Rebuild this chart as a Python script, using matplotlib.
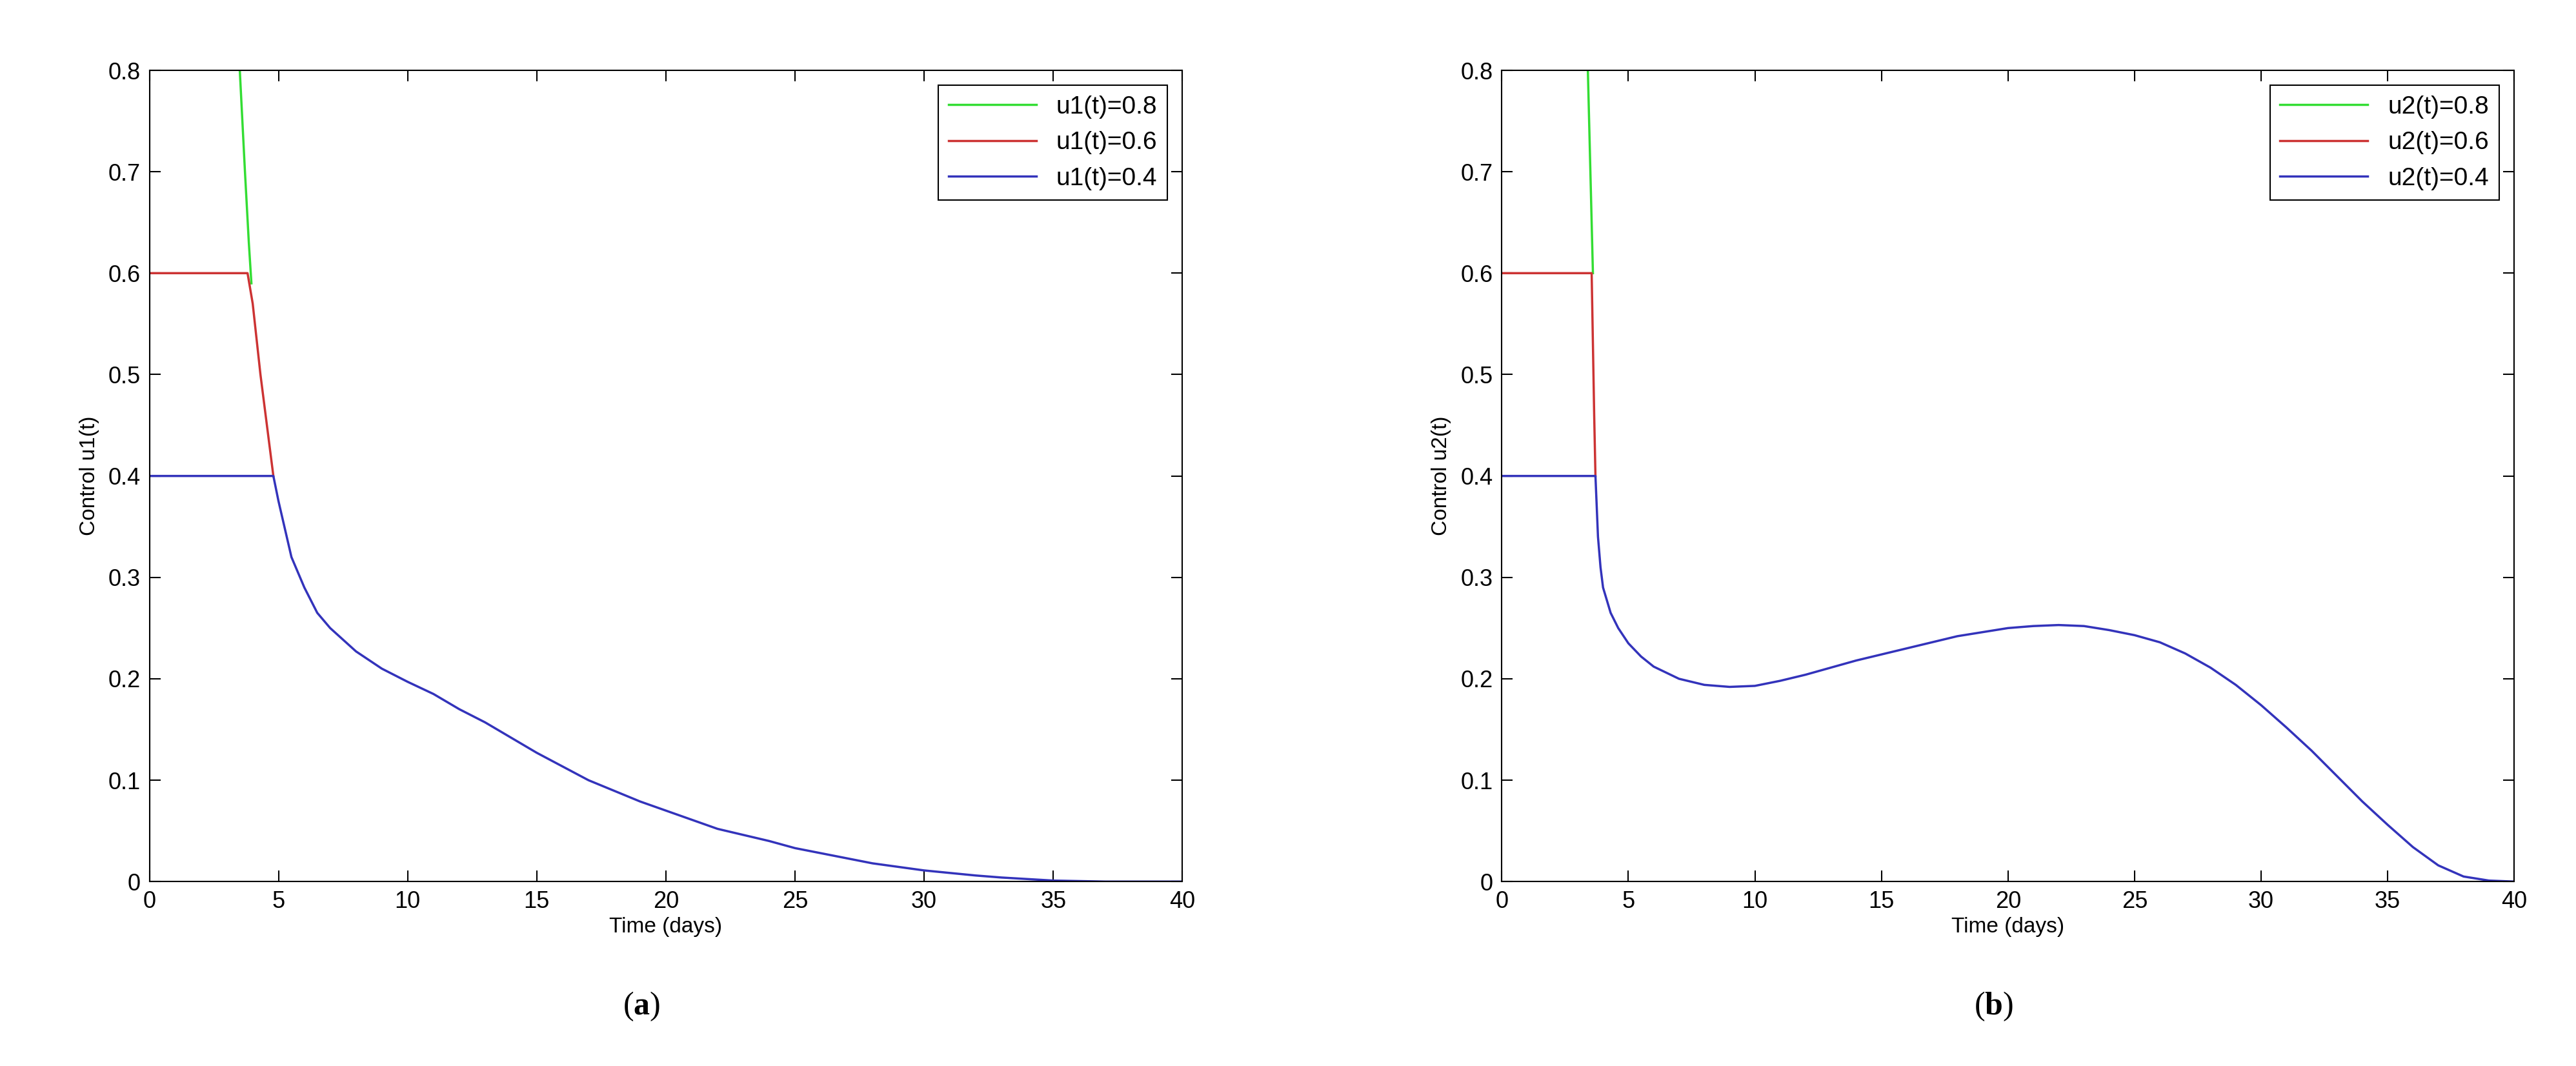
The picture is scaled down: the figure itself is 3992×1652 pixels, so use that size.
import matplotlib
matplotlib.use('Agg')
import matplotlib.pyplot as plt

plt.rcParams['font.family'] = ['Liberation Sans', 'DejaVu Sans']
plt.rcParams['mathtext.fontset'] = 'custom'
plt.rcParams['mathtext.bf'] = 'Liberation Serif:bold'

# panel (a): u1
a_g_t = [3.5, 3.7, 3.85, 3.95]
a_g_u = [0.80, 0.70, 0.63, 0.59]
a_r_t = [0, 3.8, 4.0, 4.3, 4.6, 4.8]
a_r_u = [0.6, 0.6, 0.57, 0.50, 0.44, 0.40]
a_b_t = [0, 4.8, 5.0, 5.5, 6.0, 6.5, 7.0, 8.0, 9.0, 10, 11, 12, 13, 15, 17, 19, 20,
         22, 24, 25, 27, 28, 30, 32, 33, 35, 37, 40]
a_b_u = [0.4, 0.4, 0.375, 0.32, 0.29, 0.265, 0.25, 0.227, 0.21, 0.197, 0.185, 0.17,
         0.157, 0.127, 0.1, 0.079, 0.07, 0.052, 0.04, 0.033, 0.023, 0.018, 0.011,
         0.006, 0.004, 0.001, 0.0, 0.0]

# panel (b): u2
b_g_t = [3.4, 3.5, 3.6]
b_g_u = [0.80, 0.70, 0.60]
b_r_t = [0, 3.55, 3.6, 3.65, 3.7]
b_r_u = [0.6, 0.6, 0.53, 0.46, 0.40]
b_b_t = [0, 3.7, 3.8, 3.9, 4.0, 4.3, 4.6, 5, 5.5, 6, 7, 8, 9, 10, 11, 12, 14, 16, 18,
         20, 21, 22, 23, 24, 25, 26, 27, 28, 29, 30, 31, 32, 33, 34, 35, 36, 37, 38,
         39, 40]
b_b_u = [0.4, 0.4, 0.34, 0.31, 0.29, 0.265, 0.25, 0.235, 0.222, 0.212, 0.2, 0.194,
         0.192, 0.193, 0.198, 0.204, 0.218, 0.23, 0.242, 0.25, 0.252, 0.253, 0.252,
         0.248, 0.243, 0.236, 0.225, 0.211, 0.194, 0.174, 0.152, 0.129, 0.104, 0.079,
         0.056, 0.034, 0.016, 0.005, 0.001, 0.0]

panels = [
    ([0.058, 0.173, 0.401, 0.761], 'u1', (a_g_t, a_g_u), (a_r_t, a_r_u), (a_b_t, a_b_u), 'a', 0.249),
    ([0.583, 0.173, 0.393, 0.761], 'u2', (b_g_t, b_g_u), (b_r_t, b_r_u), (b_b_t, b_b_u), 'b', 0.774),
]

fig = plt.figure(figsize=(39.92, 16.52), dpi=100)
for rect, name, g, r, b, tag, tx in panels:
    ax = fig.add_axes(rect)
    ax.plot(*g, color='#33dd33', lw=2.5, label=f'{name}(t)=0.8')
    ax.plot(*r, color='#cc3333', lw=2.5, label=f'{name}(t)=0.6')
    ax.plot(*b, color='#3333bb', lw=2.5, label=f'{name}(t)=0.4')
    ax.set_xlim(0, 40)
    ax.set_ylim(0, 0.8)
    ax.set_xticks(range(0, 41, 5))
    ax.set_yticks([0, 0.1, 0.2, 0.3, 0.4, 0.5, 0.6, 0.7, 0.8])
    ax.set_yticklabels(['0', '0.1', '0.2', '0.3', '0.4', '0.5', '0.6', '0.7', '0.8'])
    ax.tick_params(direction='in', top=True, right=True, length=12, width=1.5,
                   labelsize=26, pad=10)
    for s in ax.spines.values():
        s.set_linewidth(1.5)
    ax.set_xlabel('Time (days)', fontsize=24, labelpad=4)
    ax.set_ylabel(f'Control {name}(t)', fontsize=24, labelpad=10)
    leg = ax.legend(loc='upper right', fontsize=28, fancybox=False, framealpha=1,
                    edgecolor='black', handlelength=3.5, borderaxespad=0.6)
    leg.get_frame().set_linewidth(1.5)
    fig.text(tx, 0.056, '($\\mathbf{' + tag + '}$)', ha='center', va='center', fontsize=36,
             family=['Liberation Serif', 'DejaVu Serif'])

fig.savefig('out.png', dpi=100, facecolor='white')
